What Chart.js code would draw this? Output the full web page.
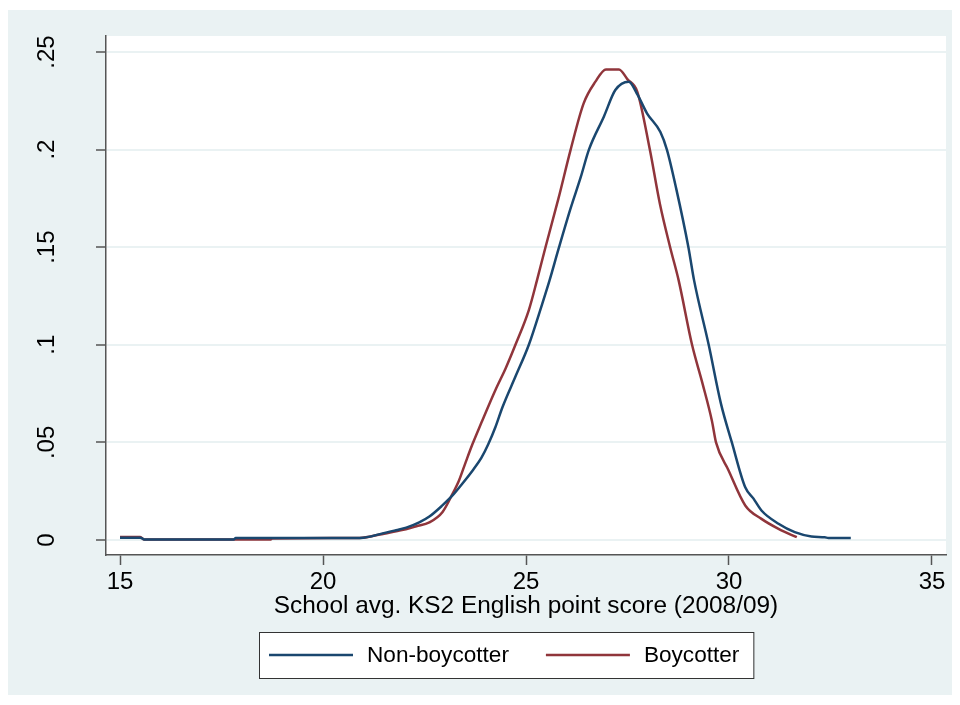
<!DOCTYPE html>
<html><head><meta charset="utf-8">
<script src="https://cdn.jsdelivr.net/npm/chart.js@4.4.0/dist/chart.umd.min.js"></script>
<style>html,body{margin:0;padding:0;background:#fff;}#wrap{width:960px;height:705px;position:relative;}</style>
</head><body><div id="wrap"><canvas id="c" width="960" height="705"></canvas></div>
<script>
const seriesNames = ['Non-boycotter', 'Boycotter'];
const seriesColors = ['#1a476f', '#90353b'];
const nonBoycotterX = [15.0,15.5,15.6,17.8,17.85,18.7,19.5,20.5,21.0,21.4,21.8,22.05,22.37,22.62,22.94,23.19,23.43,23.7,23.9,24.07,24.25,24.42,24.74,25.07,25.4,25.58,25.8,26.1,26.35,26.55,26.92,27.2,27.53,27.75,27.98,28.31,28.47,28.7,29.0,29.14,29.5,29.8,30.07,30.4,30.6,30.8,31.22,31.62,32.03,32.36,32.45,33.0];
const nonBoycotterY = [0.0012,0.0012,0.0002,0.0002,0.001,0.001,0.001,0.001,0.0012,0.003,0.005,0.0063,0.009,0.012,0.0177,0.0228,0.0288,0.036,0.042,0.049,0.058,0.068,0.0837,0.1,0.121,0.133,0.149,0.17,0.186,0.2,0.217,0.2305,0.2348,0.228,0.2186,0.209,0.2,0.18,0.15,0.133,0.1,0.07,0.05,0.027,0.0213,0.0151,0.0083,0.004,0.0018,0.0014,0.001,0.001];
const boycotterX = [15.0,15.5,15.6,18.7,18.75,20.9,21.4,21.8,22.04,22.3,22.62,22.94,23.19,23.35,23.5,23.68,23.9,24.25,24.5,24.74,25.07,25.27,25.48,25.8,26.1,26.42,26.71,26.97,27.29,27.5,27.74,28.05,28.3,28.55,28.76,29.09,29.35,29.58,29.68,29.99,30.4,30.8,31.22,31.67];
const boycotterY = [0.0015,0.0015,0.0002,0.0002,0.0008,0.001,0.0028,0.0045,0.0055,0.007,0.009,0.0142,0.0236,0.0305,0.039,0.049,0.06,0.077,0.088,0.1,0.1178,0.133,0.15,0.175,0.2,0.2237,0.2348,0.2411,0.2411,0.236,0.2297,0.2,0.172,0.15,0.133,0.1,0.08,0.061,0.05,0.0356,0.0177,0.0108,0.0057,0.0014];
const xTicks = [15, 20, 25, 30, 35];
const yTicks = [0, 0.05, 0.1, 0.15, 0.2, 0.25];
const yTickLabels = ['0', '.05', '.1', '.15', '.2', '.25'];
const xTitle = 'School avg. KS2 English point score (2008/09)';

const FONT = 'Arial, "Liberation Sans", Helvetica, sans-serif';
const BG = '#eaf2f3';

function pts(xs, ys) { return xs.map((x, i) => ({ x: x, y: ys[i] })); }

const bgPlugin = {
  id: 'bg',
  beforeDraw(chart) {
    const ctx = chart.ctx, a = chart.chartArea;
    ctx.save();
    ctx.fillStyle = '#ffffff';
    ctx.fillRect(0, 0, chart.width, chart.height);
    ctx.fillStyle = BG;
    ctx.fillRect(8, 10, chart.width - 16, chart.height - 20);
    ctx.fillStyle = '#ffffff';
    ctx.fillRect(a.left, a.top, a.right - a.left, a.bottom - a.top);
    ctx.restore();
  }
};

const legendPlugin = {
  id: 'stataLegend',
  afterDraw(chart) {
    const ctx = chart.ctx;
    ctx.save();
    ctx.font = '22.6px ' + FONT;
    const lineLen = 84, gapText = 14, gapItem = 37, padL = 10, padR = 14;
    const widths = seriesNames.map(n => ctx.measureText(n).width);
    let total = padL + padR + gapItem * (seriesNames.length - 1);
    widths.forEach(w => { total += lineLen + gapText + w; });
    const left = 259, top = 632, h = 46;
    ctx.fillStyle = '#ffffff';
    ctx.fillRect(left, top, total, h);
    ctx.strokeStyle = '#333333';
    ctx.lineWidth = 1;
    ctx.strokeRect(left + 0.5, top + 0.5, total, h);
    let x = left + padL;
    const cy = top + h / 2;
    seriesNames.forEach((n, i) => {
      ctx.strokeStyle = seriesColors[i];
      ctx.lineWidth = 2.5;
      ctx.beginPath();
      ctx.moveTo(x, cy);
      ctx.lineTo(x + lineLen, cy);
      ctx.stroke();
      x += lineLen + gapText;
      ctx.fillStyle = '#000';
      ctx.textBaseline = 'middle';
      ctx.textAlign = 'left';
      ctx.fillText(n, x, cy + 1);
      x += widths[i] + gapItem;
    });
    ctx.restore();
  }
};

new Chart(document.getElementById('c'), {
  type: 'line',
  data: {
    datasets: [
      { label: seriesNames[0], data: pts(nonBoycotterX, nonBoycotterY), borderColor: seriesColors[0], borderWidth: 2.5, pointRadius: 0, cubicInterpolationMode: 'monotone', fill: false },
      { label: seriesNames[1], data: pts(boycotterX, boycotterY), borderColor: seriesColors[1], borderWidth: 2.5, pointRadius: 0, cubicInterpolationMode: 'monotone', fill: false }
    ]
  },
  options: {
    responsive: false,
    animation: false,
    devicePixelRatio: 1,
    layout: { padding: { left: 0, top: 36, right: 14, bottom: 80 } },
    plugins: { legend: { display: false }, tooltip: { enabled: false } },
    scales: {
      x: {
        type: 'linear', min: 14.655, max: 35.345,
        afterBuildTicks: s => { s.ticks = xTicks.map(v => ({ value: v })); },
        afterFit: s => { s.height = 70; s.paddingLeft = 0; s.paddingRight = 0; },
        ticks: { font: { size: 24, family: FONT }, color: '#000', padding: 3, maxRotation: 0, minRotation: 0, callback: v => String(v) },
        grid: { drawOnChartArea: false, drawTicks: true, tickColor: '#555', tickLength: 10, tickWidth: 1.5 },
        border: { color: '#555', width: 1.5 },
        title: { display: true, text: xTitle, font: { size: 24.4, family: FONT }, color: '#000', padding: { top: 0, bottom: 4 } }
      },
      y: {
        type: 'linear', min: -0.0077, max: 0.2582,
        afterBuildTicks: s => { s.ticks = yTicks.map(v => ({ value: v })); },
        afterFit: s => { s.width = 106; s.paddingTop = 0; s.paddingBottom = 0; },
        ticks: { font: { size: 24, family: FONT }, color: '#000', minRotation: 90, maxRotation: 90, crossAlign: 'center', padding: 32, callback: (v, i) => yTickLabels[i] },
        grid: { color: BG, lineWidth: 2, tickColor: '#555', tickLength: 10, tickWidth: 1.5 },
        border: { color: '#555', width: 1.5 }
      }
    }
  },
  plugins: [bgPlugin, legendPlugin]
});
</script>
</body></html>
